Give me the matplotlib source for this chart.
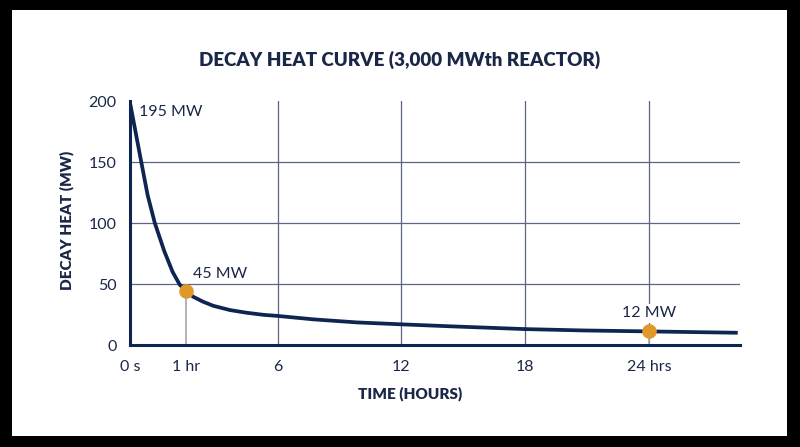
import numpy as np
import matplotlib.pyplot as plt
from matplotlib.patches import Rectangle

# datos
horas = [0, 0.1, 0.2, 0.31, 0.44, 0.61, 0.76, 0.89, 1.0, 1.4, 1.94, 2.49,
         3.4, 4.31, 5.22, 6, 7.72, 9.82, 12, 14.5, 18, 20.8, 24, 28.3]
calor = [197, 173, 149, 123, 100, 77, 60, 49.4, 44.5, 39.6, 35.5, 32.2,
         28.7, 26.5, 24.8, 23.9, 21.1, 18.6, 17.0, 15.3, 13.1, 12.0, 11.2, 10.1]

puntos_h = [1, 24]
puntos_mw = [44.5, 11.2]
puntos_txt = ['45 MW', '12 MW']

ticks_x = [0, 1, 6, 12, 18, 24]
etiquetas_x = ['0 s', '1 hr', '6', '12', '18', '24 hrs']
ticks_y = [0, 50, 100, 150, 200]

azul = '#0f2551'
texto = '#1a2747'
rejilla = '#5b6682'
naranja = '#e1982b'

plt.rcParams['font.family'] = ['Lato', 'DejaVu Sans']

# escala del eje x: la primera hora va estirada
bp_h = [0, 1, 6, 40]
bp_px = [0, 55.5, 147.2, 147.2 + 34 * 20.63]

def fwd(x):
    return np.interp(x, bp_h, bp_px)

def inv(x):
    return np.interp(x, bp_px, bp_h)

fig = plt.figure(figsize=(8, 4.47), dpi=100, facecolor='black')
fig.patches.append(Rectangle((12 / 800, 11 / 447), 775 / 800, 426 / 447,
                             transform=fig.transFigure, facecolor='white',
                             edgecolor='none', zorder=-10))

ax = fig.add_axes([0.163, 0.228, 0.762, 0.546])
ax.set_facecolor('none')
ax.set_xscale('function', functions=(fwd, inv))
ax.set_xlim(0, 28.41)
ax.set_ylim(0, 200)

for y in [50, 100, 150]:
    ax.axhline(y, color=rejilla, lw=0.9, zorder=1)
for x in [6, 12, 18, 24]:
    ax.axvline(x, color=rejilla, lw=0.9, zorder=1)

# lineas bajo los puntos
for h, v in zip(puntos_h, puntos_mw):
    ax.plot([h, h], [0, v], color='#a3a7b0', lw=1.2, zorder=2)

ax.plot(horas, calor, color=azul, lw=2.7, solid_capstyle='butt',
        solid_joinstyle='round', zorder=3)
ax.scatter(puntos_h, puntos_mw, s=110, color=naranja, zorder=4, linewidths=0)

ax.text(0.16, 191, '195 MW', fontsize=11.5, color=texto, va='center', ha='left')
ax.text(1.4, 58, puntos_txt[0], fontsize=11.5, color=texto, va='center', ha='left')
ax.text(24, 26, puntos_txt[1], fontsize=11.5, color=texto, va='center', ha='center',
        bbox=dict(facecolor='white', edgecolor='none', pad=2), zorder=3)

for s in ['top', 'right']:
    ax.spines[s].set_visible(False)
for s in ['left', 'bottom']:
    ax.spines[s].set_color(azul)
    ax.spines[s].set_linewidth(2.2)
    ax.spines[s].set_zorder(5)

ax.set_xticks(ticks_x)
ax.set_xticklabels(etiquetas_x)
ax.set_yticks(ticks_y)
ax.tick_params(length=0, labelsize=11.5, labelcolor=texto)
ax.tick_params(axis='x', pad=11)
ax.tick_params(axis='y', pad=10)

ax.set_xlabel('TIME (HOURS)', fontsize=11, fontweight='heavy', color=texto)
ax.set_ylabel('DECAY HEAT (MW)', fontsize=11, fontweight='heavy', color=texto)
ax.xaxis.set_label_coords(0.459, -0.168)
ax.yaxis.set_label_coords(-0.093, 0.51)

fig.text(0.5, 1 - 60 / 447, 'DECAY HEAT CURVE (3,000 MWth REACTOR)', fontsize=13.5,
         fontweight='heavy', color=texto, ha='center', va='center')

fig.savefig('out.png', dpi=100, facecolor='black')
